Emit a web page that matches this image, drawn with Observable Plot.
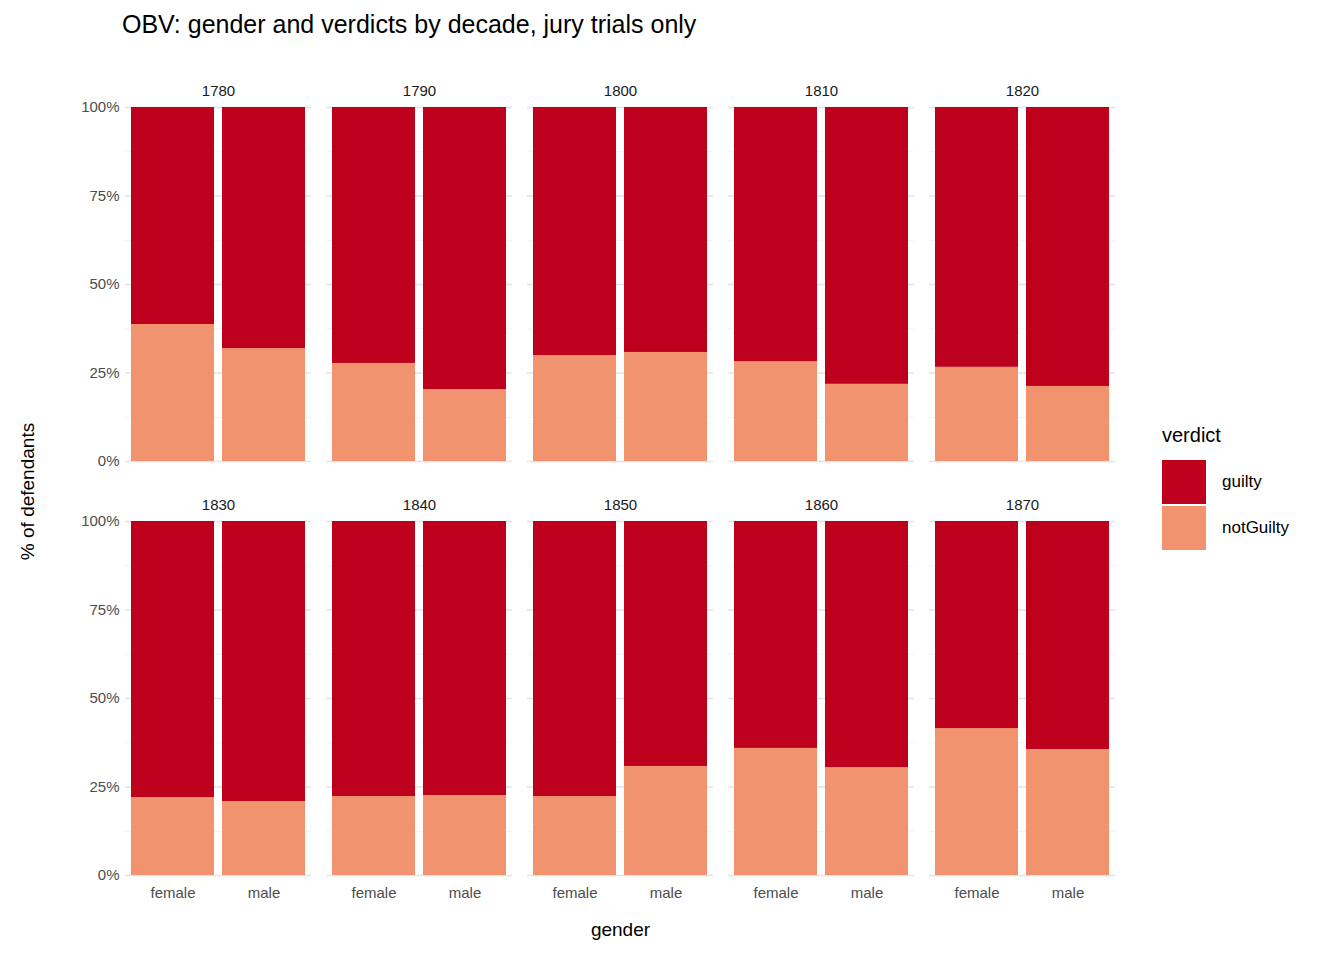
<!DOCTYPE html>
<html><head><meta charset="utf-8">
<script src="https://cdn.jsdelivr.net/npm/d3@7"></script>
<script src="https://cdn.jsdelivr.net/npm/@observablehq/plot@0.6"></script>
<style>
body{margin:0;background:#fff;font-family:"Liberation Sans",Arial,sans-serif;position:relative;width:1344px;height:960px;overflow:hidden}
#title{position:absolute;left:122px;top:10px;font-size:25px;color:#000}
#chart{position:absolute;left:0;top:60px}
#legend{position:absolute;left:1162px;top:424px;font-size:20px}
.item{display:flex;align-items:center;height:46px;font-size:17px}
.sw{width:44px;height:44px;margin-right:16px}
</style></head><body>
<div id="title">OBV: gender and verdicts by decade, jury trials only</div>
<div id="chart"></div>
<div id="legend"><div style="margin-bottom:12px">verdict</div>
<div class="item"><div class="sw" style="background:#bd001b"></div>guilty</div>
<div class="item"><div class="sw" style="background:#f0936e"></div>notGuilty</div></div>
<script>
const decades=[1780,1790,1800,1810,1820,1830,1840,1850,1860,1870];
const genders=["female","male"];
const notGuiltyFemale=[38.7,27.7,29.9,28.2,26.6,22.0,22.3,22.3,35.9,41.5];
const notGuiltyMale=[31.9,20.3,30.8,21.8,21.2,20.9,22.6,30.8,30.5,35.6];
const data=[];
decades.forEach((d,i)=>{
  const col=i%5,row=Math.floor(i/5);
  [["female",notGuiltyFemale[i]],["male",notGuiltyMale[i]]].forEach(([g,v])=>{
    data.push({decade:d,col,row,gender:g,verdict:"notGuilty",value:v/100});
    data.push({decade:d,col,row,gender:g,verdict:"guilty",value:1-v/100});
  });
});
const labels=decades.map((d,i)=>({decade:d,col:i%5,row:Math.floor(i/5)}));
const major=[0,0.25,0.5,0.75,1];
const minor=[0.125,0.375,0.625,0.875];
const chart=Plot.plot({
  width:1344,height:900,marginLeft:123,marginRight:227,marginTop:47,marginBottom:85,
  style:{fontFamily:"Liberation Sans, Arial, sans-serif",fontSize:"15px",color:"#4d4d4d"},
  fx:{domain:[0,1,2,3,4],paddingInner:0.074,paddingOuter:0,axis:null},
  fy:{domain:[0,1],paddingInner:0.145,paddingOuter:0,axis:null},
  x:{domain:genders,paddingInner:0.09,paddingOuter:0.06},
  y:{domain:[0,1]},
  color:{domain:["guilty","notGuilty"],range:["#bd001b","#f0936e"]},
  marks:[
    Plot.ruleY(minor,{stroke:"#f0f0f0",strokeWidth:0.8}),
    Plot.ruleY(major,{stroke:"#e3e3e3",strokeWidth:1.4}),
    Plot.barY(data,{fx:"col",fy:"row",x:"gender",y:"value",fill:"verdict",order:["notGuilty","guilty"]}),
    Plot.text(labels,{fx:"col",fy:"row",text:d=>String(d.decade),frameAnchor:"top",dy:-22,fontSize:15,fill:"#1a1a1a"}),
    Plot.axisY({ticks:major,tickFormat:d=>Math.round(d*100)+"%",tickSize:0,tickPadding:6,fontSize:15,label:"% of defendants",labelAnchor:"center",labelArrow:"none",labelOffset:105}),
    Plot.axisX({tickSize:0,tickPadding:12,fontSize:15,label:"gender",labelAnchor:"center",labelArrow:"none",labelOffset:60})
  ]
});
document.getElementById("chart").appendChild(chart);
d3.select(chart).selectAll("[aria-label='y-axis label'] text, [aria-label='x-axis label'] text").attr("font-size",19).attr("fill","#000");
</script></body></html>
